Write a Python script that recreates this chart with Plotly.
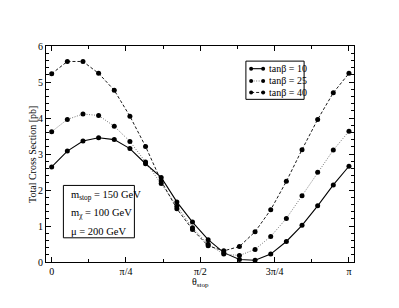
import plotly.graph_objects as go
import math

theta = [0.0, 0.1653, 0.3307, 0.4960, 0.6614, 0.8267, 0.9921, 1.1574, 1.3228, 1.4881,
         1.6535, 1.8188, 1.9842, 2.1495, 2.3149, 2.4802, 2.6456, 2.8109, 2.9762, 3.1416]
xs_tan10 = [2.64, 3.08, 3.36, 3.45, 3.40, 3.15, 2.73, 2.35, 1.67, 1.11,
            0.62, 0.26, 0.07, 0.05, 0.22, 0.57, 1.02, 1.56, 2.14, 2.66]
xs_tan25 = [3.62, 3.96, 4.11, 4.07, 3.77, 3.35, 2.78, 2.18, 1.55, 0.95,
            0.49, 0.22, 0.18, 0.35, 0.71, 1.21, 1.84, 2.49, 3.11, 3.63]
xs_tan40 = [5.23, 5.57, 5.57, 5.24, 4.77, 4.05, 3.21, 2.25, 1.48, 0.90,
            0.45, 0.31, 0.43, 0.84, 1.45, 2.24, 3.12, 3.96, 4.70, 5.24]
series_names = ["tanβ = 10", "tanβ = 25", "tanβ = 40"]
x_tickvals = [0, math.pi / 4, math.pi / 2, 3 * math.pi / 4, math.pi]
x_ticktext = ["0", "π/4", "π/2", "3π/4", "π"]
info_lines = ["m<sub>stop</sub> = 150 GeV", "m<sub>χ</sub> = 100 GeV", "μ = 200 GeV"]
x_title = "θ<sub>stop</sub>"
y_title = "Total Cross Section [pb]"

FONT = "Liberation Serif, Times New Roman, serif"
styles = [
    dict(color="black", width=1.1, dash="solid"),
    dict(color="#555555", width=0.8, dash="1px,1.5px"),
    dict(color="black", width=0.9, dash="3px,2px"),
]

fig = go.Figure()
for name, ys, st in zip(series_names, [xs_tan10, xs_tan25, xs_tan40], styles):
    fig.add_trace(go.Scatter(
        x=theta, y=ys, mode="lines+markers", name=name,
        line=st, marker=dict(color="black", size=5, symbol="circle"),
        showlegend=False,
    ))

# custom legend (box with line samples with markers at both ends)
fig.add_shape(type="rect", xref="paper", yref="paper", x0=0.649, x1=0.838, y0=0.753, y1=0.930,
              line=dict(color="black", width=1), fillcolor="white", layer="above")
rows = [0.895, 0.838, 0.785]
for r, name, st in zip(rows, series_names, styles):
    fig.add_shape(type="line", xref="paper", yref="paper", x0=0.666, x1=0.705, y0=r, y1=r,
                  line=st, layer="above")
    for xx in (0.666, 0.705):
        fig.add_shape(type="circle", xref="paper", yref="paper",
                      x0=xx - 0.0065, x1=xx + 0.0065, y0=r - 0.0095, y1=r + 0.0095,
                      fillcolor="black", line=dict(color="black", width=0), layer="above")
    fig.add_annotation(xref="paper", yref="paper", x=0.719, y=r, text=name, showarrow=False,
                       xanchor="left", yanchor="middle", font=dict(family=FONT, size=10, color="black"))

# parameter box
fig.add_shape(type="rect", xref="paper", yref="paper", x0=0.0565, x1=0.287, y0=0.112, y1=0.3545,
              line=dict(color="black", width=1), fillcolor="white", layer="above")
for yy, t in zip([0.307, 0.226, 0.140], info_lines):
    fig.add_annotation(xref="paper", yref="paper", x=0.0757, y=yy, text=t, showarrow=False,
                       xanchor="left", yanchor="middle", font=dict(family=FONT, size=10.5, color="black"))

# axis titles
fig.add_annotation(xref="paper", yref="paper", x=0.5, y=-0.094, text=x_title, showarrow=False,
                   xanchor="center", yanchor="middle", font=dict(family=FONT, size=10, color="black"))
fig.add_annotation(xref="paper", yref="paper", x=-0.0455, y=0.5, text=y_title, showarrow=False,
                   textangle=-90, xanchor="center", yanchor="middle",
                   font=dict(family=FONT, size=10, color="black"))

axis_common = dict(
    showgrid=False, zeroline=False, showline=True, linecolor="black", linewidth=1,
    mirror="ticks", ticks="inside", ticklen=5, tickcolor="black", tickwidth=1,
    tickfont=dict(family=FONT, size=10, color="black"),
)
fig.update_xaxes(
    **axis_common, range=[-0.06, 3.195], tickmode="array", tickvals=x_tickvals, ticktext=x_ticktext,
    minor=dict(ticks="inside", ticklen=3, tickcolor="black", tickmode="array",
               tickvals=[math.pi / 8, 3 * math.pi / 8, 5 * math.pi / 8, 7 * math.pi / 8]),
)
fig.update_yaxes(
    **axis_common, range=[0, 6], tickmode="linear", tick0=0, dtick=1,
    minor=dict(ticks="inside", ticklen=3, tickcolor="black", dtick=0.2, tick0=0),
)
# page body adds an 8px offset; margins compensate so the plot area lands where the reference has it
fig.update_layout(
    width=399, height=308, margin=dict(l=38, r=53, t=38, b=54),
    plot_bgcolor="white", paper_bgcolor="white", showlegend=False,
    font=dict(family=FONT, color="black"),
)
fig.write_html("out.html")
